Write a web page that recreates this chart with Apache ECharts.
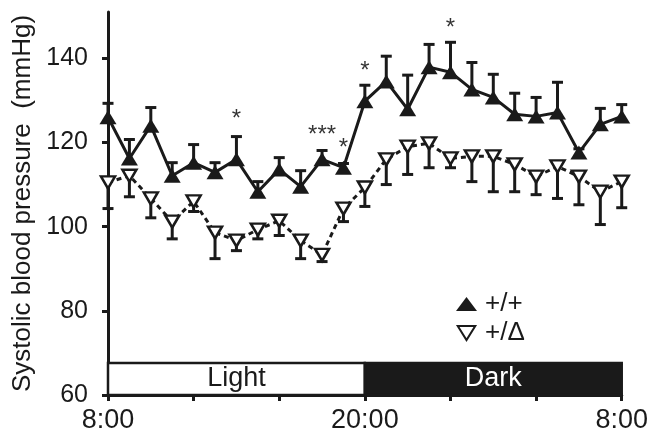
<!DOCTYPE html>
<html>
<head>
<meta charset="utf-8">
<script src="https://cdn.jsdelivr.net/npm/echarts@6/dist/echarts.min.js"></script>
<style>
  html, body { margin: 0; padding: 0; background: #fff; }
  #chart { width: 651px; height: 435px; }
</style>
</head>
<body>
<div id="chart"></div>
<script>
// clock hours, 8 = 8:00, 32 = 8:00 next morning
const hours = [8, 9, 10, 11, 12, 13, 14, 15, 16, 17, 18, 19, 20, 21, 22, 23, 24, 25, 26, 27, 28, 29, 30, 31, 32];
const wtMean = [126, 116.2, 124, 112.1, 115.2, 112.9, 116, 108.3, 113.6, 109.5, 116, 114, 129.8, 134.5, 127.9, 137.9, 136.7, 132.6, 130.7, 126.7, 126.2, 127.1, 117.6, 124.3, 126.2];
const wtUpper = [129.3, 120.7, 128.3, 115.2, 119.5, 115.2, 121.4, 110.7, 116.4, 113.3, 118.1, 115, 133.6, 140.5, 136, 143.3, 143.8, 139, 136.2, 131.7, 130.7, 134.3, 118.5, 128.1, 129];
const mutMean = [110.5, 112.1, 106.7, 101.2, 106, 98.6, 96.7, 99.3, 101.4, 96.7, 93.3, 104.3, 109.3, 116, 119, 119.8, 116.2, 116.7, 116.7, 114.8, 111.9, 114.3, 111.9, 108.3, 110.7];
const mutLower = [104.3, 107.1, 102.1, 97.1, 103.6, 92.4, 94.3, 97.1, 97.9, 92.4, 91.7, 101.2, 104.8, 110, 112.4, 114, 114, 110.7, 108.3, 108.3, 107.6, 106.7, 105.2, 100.5, 104.5];
// significance marks
const starHours = [14, 18, 19, 20, 24];
const starValues = [125.6, 121.6, 118.6, 136.8, 147.2];
const starText = ['*', '***', '*', '*', '*'];
const yTicks = [60, 80, 100, 120, 140];
const xTicks = [8, 12, 16, 20, 24, 28, 32];
const xLabels = [8, 20, 32];

const font = '"Liberation Sans", Arial, sans-serif';
const ink = '#1a1a1a';

const chart = echarts.init(document.getElementById('chart'));

function errorBars(name, mean, end) {
  return {
    type: 'custom',
    name: name + ' err',
    z: 1,
    silent: true,
    data: hours.map((h, i) => [h, mean[i], end[i]]),
    renderItem: (params, api) => {
      const a = api.coord([api.value(0), api.value(1)]);
      const b = api.coord([api.value(0), api.value(2)]);
      return {
        type: 'group',
        children: [
          { type: 'line', shape: { x1: a[0], y1: a[1], x2: b[0], y2: b[1] }, style: { stroke: ink, lineWidth: 3 } },
          { type: 'line', shape: { x1: b[0] - 5.5, y1: b[1], x2: b[0] + 5.5, y2: b[1] }, style: { stroke: ink, lineWidth: 3 } }
        ]
      };
    }
  };
}

const option = {
  animation: false,
  backgroundColor: '#fff',
  grid: { left: 108, right: 27, top: 12, bottom: 40 },
  legend: {
    orient: 'vertical',
    left: 451,
    top: 286,
    itemGap: 3,
    itemWidth: 21,
    itemHeight: 14,
    textStyle: { fontFamily: font, fontSize: 26, color: ink, padding: [0, 0, 0, 3] },
    data: [
      { name: '+/+', icon: 'triangle' },
      { name: '+/\u0394', icon: 'path://M0,0L10,0L5,8Z' }
    ]
  },
  xAxis: {
    type: 'value',
    min: 8,
    max: 32,
    splitLine: { show: false },
    axisLine: { lineStyle: { color: ink, width: 3 } },
    axisTick: { show: true, length: 6, lineStyle: { color: ink, width: 3 }, customValues: xTicks },
    axisLabel: {
      customValues: xLabels,
      margin: 12,
      fontFamily: font,
      fontSize: 27,
      color: ink,
      formatter: v => (v % 24) + ':00'
    }
  },
  yAxis: {
    type: 'value',
    min: 60,
    max: 151,
    name: 'Systolic blood pressure  (mmHg)',
    nameLocation: 'middle',
    nameGap: 70,
    nameTextStyle: { fontFamily: font, fontSize: 26, color: ink },
    splitLine: { show: false },
    axisLine: { show: true, lineStyle: { color: ink, width: 3 } },
    axisTick: { show: true, length: 6, lineStyle: { color: ink, width: 3 }, customValues: yTicks },
    axisLabel: { customValues: yTicks, margin: 20, fontFamily: font, fontSize: 25, color: ink }
  },
  series: [
    errorBars('+/\u0394', mutMean, mutLower),
    {
      name: '+/\u0394',
      type: 'line',
      z: 2,
      data: hours.map((h, i) => [h, mutMean[i]]),
      symbol: 'triangle',
      symbolRotate: 180,
      symbolSize: [14, 12],
      lineStyle: { color: ink, width: 3, type: [5, 4] },
      itemStyle: { color: '#fff', borderColor: ink, borderWidth: 2.5 },
      markArea: {
        silent: true,
        data: [
          [
            {
              xAxis: 8, yAxis: 60,
              itemStyle: { color: '#fff', borderColor: ink, borderWidth: 2.5 },
              label: { show: true, position: 'inside', formatter: 'Light', fontFamily: font, fontSize: 27, color: ink, padding: [3, 0, 0, 0] }
            },
            { xAxis: 20, yAxis: 67.6 }
          ],
          [
            {
              xAxis: 20, yAxis: 60,
              itemStyle: { color: ink, borderColor: ink, borderWidth: 2.5 },
              label: { show: true, position: 'inside', formatter: 'Dark', fontFamily: font, fontSize: 27, color: '#fff', padding: [3, 0, 0, 0] }
            },
            { xAxis: 32, yAxis: 67.6 }
          ]
        ]
      }
    },
    errorBars('+/+', wtMean, wtUpper),
    {
      name: '+/+',
      type: 'line',
      z: 3,
      data: hours.map((h, i) => [h, wtMean[i]]),
      symbol: 'triangle',
      symbolSize: [17, 14],
      lineStyle: { color: ink, width: 3 },
      itemStyle: { color: ink, borderColor: ink, borderWidth: 0 }
    },
    {
      name: 'stars',
      type: 'scatter',
      z: 4,
      symbolSize: 0,
      silent: true,
      data: starHours.map((h, i) => [h, starValues[i], starText[i]]),
      label: {
        show: true,
        position: 'inside',
        formatter: p => p.data[2],
        fontFamily: font,
        fontSize: 24,
        color: '#000'
      }
    }
  ]
};

chart.setOption(option);
</script>
</body>
</html>
